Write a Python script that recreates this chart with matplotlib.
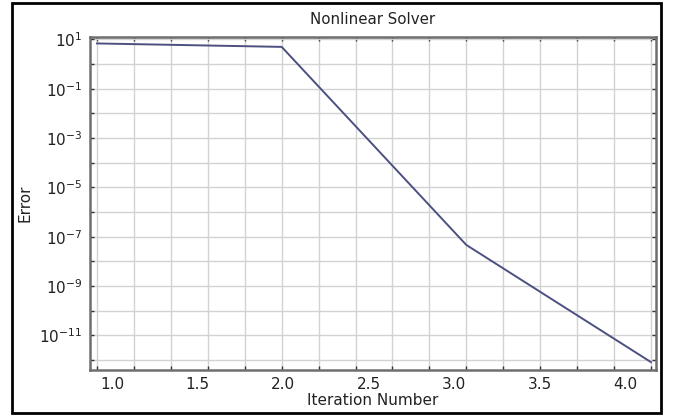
import numpy as np
import matplotlib
matplotlib.use("Agg")
import matplotlib.pyplot as plt
from matplotlib.ticker import FixedLocator, MultipleLocator, NullFormatter, LogFormatterSciNotation
from matplotlib.patches import Rectangle

# ---- data ----
iterations = [1, 2, 3, 4]
errors = [6.9, 5.0, 4.6e-8, 8.1e-13]
x_label_values = [1.0, 1.5, 2.0, 2.5, 3.0, 3.5, 4.0]
y_major_exponents = [1, -1, -3, -5, -7, -9, -11]
y_minor_exponents = [0, -2, -4, -6, -8, -10, -12]
title = "Nonlinear Solver"
xlabel = "Iteration Number"
ylabel = "Error"

# mapping of the printed x labels relative to the iteration scale (as displayed)
LBL_OFFSET = 0.9123
LBL_SCALE = 1.0800

plt.rcParams['font.family'] = ['DejaVu Sans']
plt.rcParams['mathtext.fontset'] = 'dejavusans'

W, H = 674, 417
fig = plt.figure(figsize=(W / 100, H / 100), dpi=100)
fig.patch.set_facecolor('white')

ax = fig.add_axes([90 / W, 1 - 370 / H, 566 / W, 333 / H])
ax.set_yscale('log')
ax.set_xlim(0.962, 4.027)
ax.set_ylim(10 ** -12.41, 10 ** 1.10)

grid_c = '#d2d2d2'
ax.plot(iterations, errors, color='#4c5080', lw=1.4, zorder=3, solid_joinstyle='miter')

ax.xaxis.set_major_locator(MultipleLocator(0.2))
ax.xaxis.set_major_formatter(NullFormatter())
ax.yaxis.set_major_locator(FixedLocator([10.0 ** e for e in y_major_exponents]))
ax.yaxis.set_minor_locator(FixedLocator([10.0 ** e for e in y_minor_exponents]))
ax.yaxis.set_major_formatter(LogFormatterSciNotation())
ax.yaxis.set_minor_formatter(NullFormatter())

ax.grid(True, which='both', color=grid_c, lw=1.0, zorder=0)
ax.tick_params(axis='both', which='both', direction='in', length=3, width=1.0,
               color='#333333', top=True, right=True, labelsize=11)
ax.tick_params(axis='y', which='both', pad=5.5, labelcolor='#222222')
ax.tick_params(axis='x', which='both', labelbottom=False)

for s in ax.spines.values():
    s.set_color('#6e6e6e')
    s.set_linewidth(1.8)

def fwd(d):
    return LBL_OFFSET + (np.asarray(d) - 1) * LBL_SCALE + 0.0

def inv(v):
    return 1 + (np.asarray(v) - LBL_OFFSET) / LBL_SCALE

sec = ax.secondary_xaxis('bottom', functions=(fwd, inv))
sec.set_xticks(x_label_values)
sec.set_xticklabels([f"{v:.1f}" for v in x_label_values])
sec.tick_params(length=0, pad=5, labelsize=11, labelcolor='#222222')
sec.spines['bottom'].set_visible(False)
sec.set_xlabel(xlabel, fontsize=11, labelpad=1, color='#222222')

ax.set_ylabel(ylabel, fontsize=11, labelpad=5, color='#222222')
ax.set_title(title, fontsize=10.8, pad=9, color='#222222')

fig.patches.append(Rectangle((12 / W, 1 - 413 / H), 649 / W, 410 / H,
                             transform=fig.transFigure, fill=False,
                             edgecolor='black', linewidth=2, zorder=10))

fig.savefig('out.png', dpi=100, facecolor='white')
